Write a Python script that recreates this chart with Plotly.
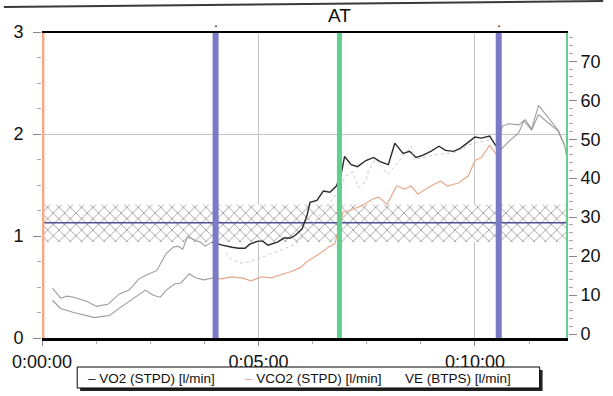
import plotly.graph_objects as go

# ---------------- data ----------------
series_names = ["VO2 (STPD) [l/min]", "VCO2 (STPD) [l/min]", "VE (BTPS) [l/min]"]

# time in minutes
vo2_t = [0.24, 0.43, 0.58, 0.73, 1.03, 1.26, 1.52, 1.78, 2.01, 2.24, 2.42, 2.65, 2.87, 3.03,
         3.14, 3.25, 3.36, 3.66, 3.77, 3.93, 4.16, 4.39, 4.54, 4.69, 4.80, 4.99, 5.10, 5.22,
         5.44, 5.59, 5.74, 5.86, 6.01, 6.12, 6.19, 6.35, 6.50, 6.65, 6.80, 6.91, 6.99, 7.14,
         7.29, 7.48, 7.66, 7.81, 8.00, 8.15, 8.34, 8.49, 8.64, 8.79, 8.98, 9.17, 9.32, 9.51,
         9.66, 9.85, 10.00, 10.15, 10.34, 10.49, 10.64, 10.79, 11.01, 11.16, 11.31, 11.47,
         11.69, 11.92, 12.07, 12.14]
vo2 = [0.49, 0.39, 0.41, 0.40, 0.36, 0.31, 0.33, 0.43, 0.47, 0.58, 0.62, 0.66, 0.83, 0.89,
       0.90, 0.87, 0.99, 0.94, 0.90, 0.94, 0.91, 0.89, 0.88, 0.88, 0.92, 0.95, 0.95, 0.91,
       0.94, 0.98, 0.98, 1.01, 1.07, 1.20, 1.33, 1.35, 1.44, 1.43, 1.49, 1.61, 1.78, 1.70,
       1.68, 1.74, 1.77, 1.73, 1.70, 1.91, 1.81, 1.83, 1.77, 1.79, 1.83, 1.88, 1.84, 1.83,
       1.86, 1.92, 1.97, 1.96, 1.98, 1.88, 2.08, 2.10, 2.09, 2.14, 2.05, 2.28,
       2.16, 2.04, 1.89, 1.73]

vco2_t = [0.24, 0.43, 0.73, 1.03, 1.22, 1.37, 1.56, 1.78, 2.08, 2.39, 2.57, 2.73, 2.87, 3.06,
          3.21, 3.40, 3.55, 3.74, 3.97, 4.16, 4.38, 4.61, 4.83, 5.07, 5.29, 5.52, 5.74, 5.97,
          6.12, 6.27, 6.46, 6.61, 6.76, 6.87, 6.95, 7.17, 7.40, 7.63, 7.78, 7.97, 8.19, 8.38,
          8.53, 8.68, 8.98, 9.21, 9.36, 9.62, 9.85, 10.00, 10.15, 10.34, 10.49, 10.79, 11.01,
          11.13, 11.31, 11.47, 11.69, 11.92, 12.07]
vco2 = [0.37, 0.29, 0.25, 0.22, 0.20, 0.21, 0.22, 0.29, 0.38, 0.47, 0.42, 0.40, 0.47, 0.53,
        0.54, 0.63, 0.59, 0.57, 0.59, 0.58, 0.60, 0.59, 0.56, 0.60, 0.59, 0.62, 0.65, 0.69,
        0.75, 0.79, 0.84, 0.89, 0.92, 1.09, 1.23, 1.26, 1.30, 1.36, 1.38, 1.31, 1.49, 1.46,
        1.49, 1.41, 1.49, 1.54, 1.49, 1.52, 1.59, 1.74, 1.77, 1.89, 1.80, 1.93, 2.01,
        2.13, 2.04, 2.19, 2.11, 2.03, 1.89]

ve_t = [4.24, 4.38, 4.61, 4.83, 5.14, 5.51, 5.89, 6.35, 6.80, 7.02, 7.17, 7.32, 7.47, 7.54,
        7.70, 7.99, 8.27, 8.53, 8.60, 9.06, 9.51, 9.96, 10.41]
ve = [20.8, 19.1, 18.2, 18.7, 19.9, 21.5, 23.2, 29.6, 36.0, 40.6, 41.6, 37.6, 39.0, 41.9,
      44.9, 41.0, 44.8, 48.2, 44.7, 46.0, 46.5, 49.0, 49.9]

# event markers (vertical lines)
marker_t = [0.0, 4.01, 6.87, 10.55, 12.15]
marker_labels = ["", ".", "AT", ".", ""]
marker_colors = ["#f5ab88", "#7b7bc5", "#62cf8d", "#7b7bc5", "#62cf8d"]
marker_widths = [5, 6, 5, 6, 4]

# reference band (left axis, l/min)
band_low, band_mid, band_high = 0.94, 1.13, 1.31

x_range = [0, 12.15]
y_left_range = [0, 3]
y_right_range = [-1, 77.5]
x_tick_vals = [0, 5, 10]
x_tick_text = ["0:00:00", "0:05:00", "0:10:00"]
y_left_ticks = [0, 1, 2, 3]
y_right_ticks = [0, 10, 20, 30, 40, 50, 60, 70]

# ---------------- layout geometry ----------------
W, H = 613, 396
L, R, T, B = 39, 36, 32, 58
PW, PH = W - L - R, H - T - B
FONT = "Liberation Sans, Arial, sans-serif"


def px(xp):
    return (xp - L) / PW


def py(yp):
    return (H - B - yp) / PH


def split(t, v, t0, t1):
    pts = list(zip(t, v))
    pre = [p for p in pts if p[0] <= t0]
    mid = [p for p in pts if t0 <= p[0] <= t1]
    post = [p for p in pts if p[0] >= t1]
    if pre and mid:
        mid = [pre[-1]] + mid
    if mid and post:
        post = [mid[-1]] + post
    return pre, mid, post


w0, w1 = marker_t[1], marker_t[3]
GRAY = "#9c9c9c"

fig = go.Figure()

# hatched band
fig.add_trace(go.Scatter(
    x=[x_range[0], x_range[1], x_range[1], x_range[0], x_range[0]],
    y=[band_low, band_low, band_high, band_high, band_low],
    fill="toself", mode="lines", line=dict(width=0),
    fillcolor="white",
    fillpattern=dict(shape="x", size=8, solidity=0.2, fgcolor="#333333", bgcolor="white"),
    hoverinfo="skip", showlegend=False))
fig.add_trace(go.Scatter(x=x_range, y=[band_mid, band_mid], mode="lines",
                         line=dict(color="#4f4f92", width=1.3), hoverinfo="skip",
                         showlegend=False))

styles = [
    dict(color="#2a2a2a", width=1.4),
    dict(color="#e9a88c", width=1.2),
]
for (t, v), st in zip([(vo2_t, vo2), (vco2_t, vco2)], styles):
    pre, mid, post = split(t, v, w0, w1)
    for seg, line in [(pre, dict(color=GRAY, width=1.1)), (mid, st),
                      (post, dict(color=GRAY, width=1.1))]:
        if seg:
            fig.add_trace(go.Scatter(x=[p[0] for p in seg], y=[p[1] for p in seg],
                                     mode="lines", line=line, showlegend=False))

fig.add_trace(go.Scatter(x=ve_t, y=ve, yaxis="y2", mode="lines",
                         line=dict(color="#c9c9c9", width=1, dash="dot"),
                         showlegend=False))

shapes = []
annotations = []
for t, lab, col, wd in zip(marker_t, marker_labels, marker_colors, marker_widths):
    shapes.append(dict(type="line", xref="x", yref="paper", x0=t, x1=t, y0=0, y1=1,
                       line=dict(color=col, width=wd), layer="above"))
    if lab:
        big = lab != "."
        annotations.append(dict(x=t, y=1.0 if not big else 1.012, xref="x", yref="paper",
                                text=lab, showarrow=False, yanchor="bottom",
                                font=dict(family=FONT, size=19 if big else 14, color="#111")))

# top border
shapes.append(dict(type="line", xref="paper", yref="paper", x0=0, x1=1, y0=1, y1=1,
                   line=dict(color="black", width=2), layer="above"))
# scan edge line at the very top
shapes.append(dict(type="line", xref="paper", yref="paper", x0=px(0), x1=px(W),
                   y0=py(7), y1=py(1), line=dict(color="#3a3a3a", width=2)))

# legend box with shadow
lx0, lx1, ly0, ly1 = 75, 548, 367, 388
shapes.append(dict(type="rect", xref="paper", yref="paper", x0=px(lx0 + 3), x1=px(lx1 + 3),
                   y0=py(ly1 + 3), y1=py(ly0 + 3), fillcolor="#222", line=dict(width=0)))
shapes.append(dict(type="rect", xref="paper", yref="paper", x0=px(lx0), x1=px(lx1),
                   y0=py(ly1), y1=py(ly0), fillcolor="white",
                   line=dict(color="black", width=1)))

leg_x = [84, 245, 408]
leg_dash = ["#222", "#e9a88c", None]
for xx, name, dc in zip(leg_x, series_names, leg_dash):
    txt = (f"<span style='color:{dc}'>–</span> " if dc else "") + name
    annotations.append(dict(x=px(xx), y=py(378), xref="paper", yref="paper", text=txt,
                            showarrow=False, xanchor="left", yanchor="middle",
                            font=dict(family=FONT, size=13.5, color="#111")))

fig.update_layout(
    width=W, height=H,
    margin=dict(l=L, r=R, t=T, b=B),
    paper_bgcolor="white", plot_bgcolor="white",
    showlegend=False,
    font=dict(family=FONT, size=18, color="#111"),
    xaxis=dict(range=x_range, tickvals=x_tick_vals, ticktext=x_tick_text,
               showgrid=True, gridcolor="#c4c4c4", gridwidth=1, zeroline=False,
               showline=True, linecolor="black", linewidth=3,
               ticks="outside", ticklen=5, tickcolor="#888",
               minor=dict(dtick=1.25, ticks="outside", ticklen=3, tickcolor="#aaa"),
               tickfont=dict(size=18)),
    yaxis=dict(range=y_left_range, tickvals=y_left_ticks, showgrid=True,
               gridcolor="#c4c4c4", gridwidth=1, zeroline=False, showline=False,
               ticks="outside", ticklen=8, tickcolor="#888", ticklabelstandoff=6,
               minor=dict(dtick=0.25, ticks="outside", ticklen=4, tickcolor="#aaa"),
               tickfont=dict(size=18)),
    yaxis2=dict(range=y_right_range, tickvals=y_right_ticks, overlaying="y", side="right",
                showgrid=False, zeroline=False, showline=False,
                ticks="outside", ticklen=8, tickcolor="#888",
                minor=dict(dtick=2, ticks="outside", ticklen=4, tickcolor="#aaa"),
                tickfont=dict(size=18)),
    shapes=shapes, annotations=annotations,
)

fig.write_html("out.html")
